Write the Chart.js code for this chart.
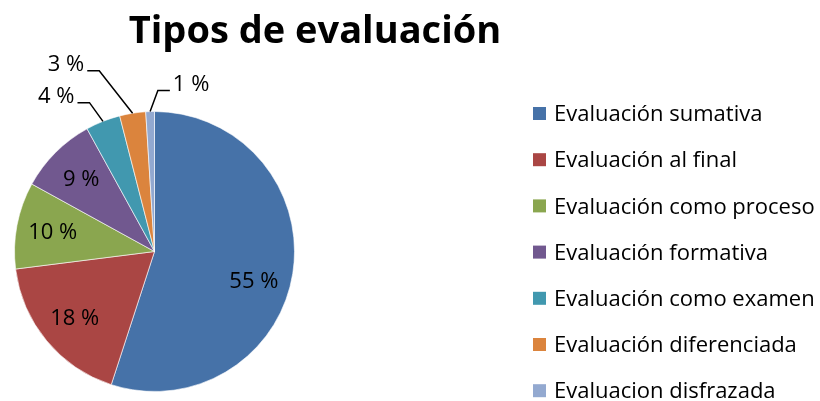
<!DOCTYPE html>
<html>
<head>
<meta charset="utf-8">
<script src="https://cdn.jsdelivr.net/npm/chart.js@4"></script>
<style>
  body { margin: 0; background: #fff; }
  #c { display: block; }
</style>
</head>
<body>
<canvas id="c" width="820" height="401"></canvas>
<script>
  // Datos del gráfico
  const categorias = ['Evaluación sumativa', 'Evaluación al final', 'Evaluación como proceso',
    'Evaluación formativa', 'Evaluación como examen', 'Evaluación diferenciada', 'Evaluacion disfrazada'];
  const valores = [55, 18, 10, 9, 4, 3, 1];
  const colores = ['#4672A8', '#AA4644', '#8AA64F', '#71588F', '#4198AF', '#DB843D', '#93A9D0'];
  const titulo = 'Tipos de evaluación';

  const FUENTE = '"Open Sans", sans-serif';

  // Etiquetas, título y leyenda dibujados a mano
  const etiquetasPlugin = {
    id: 'etiquetas',
    afterDraw(chart, args, opts) {
      const ctx = chart.ctx;
      const meta = chart.getDatasetMeta(0);
      const total = valores.reduce((a, b) => a + b, 0);
      ctx.save();

      // título
      ctx.fillStyle = '#000';
      ctx.font = 'bold 38px ' + FUENTE;
      ctx.textAlign = 'center';
      ctx.textBaseline = 'alphabetic';
      ctx.fillText(titulo, opts.tituloX, opts.tituloY);

      // porcentajes
      ctx.textBaseline = 'middle';
      ctx.font = '22px ' + FUENTE;
      meta.data.forEach((arc, i) => {
        const p = arc.getProps(['x', 'y', 'startAngle', 'endAngle', 'outerRadius'], true);
        const mid = (p.startAngle + p.endAngle) / 2;
        const txt = Math.round(valores[i] / total * 100) + ' %';
        const guia = opts.guias[i];
        if (!guia) {
          const aj = opts.interior[i] || { giro: 0, radio: 0.74 };
          const a = mid + aj.giro * Math.PI / 180;
          const r = p.outerRadius * aj.radio;
          ctx.textAlign = 'center';
          ctx.fillText(txt, p.x + Math.cos(a) * r, p.y + Math.sin(a) * r + 1);
          return;
        }
        const a2 = mid + guia.giro * Math.PI / 180;
        const x0 = p.x + Math.cos(mid) * p.outerRadius;
        const y0 = p.y + Math.sin(mid) * p.outerRadius;
        const x1 = p.x + Math.cos(a2) * p.outerRadius * guia.largo;
        const y1 = p.y + Math.sin(a2) * p.outerRadius * guia.largo;
        const x2 = x1 + guia.lado * 12;
        ctx.strokeStyle = '#000';
        ctx.lineWidth = 1.5;
        ctx.beginPath();
        ctx.moveTo(x0, y0);
        ctx.lineTo(x1, y1);
        ctx.lineTo(x2, y1);
        ctx.stroke();
        ctx.textAlign = guia.lado < 0 ? 'right' : 'left';
        ctx.fillText(txt, x2 + guia.lado * 3, y1 - 6);
      });

      // leyenda
      ctx.textAlign = 'left';
      categorias.forEach((c, i) => {
        const y = opts.leyendaY + i * opts.leyendaPaso;
        ctx.fillStyle = colores[i];
        ctx.fillRect(opts.leyendaX, y - 6, 13, 13);
        ctx.fillStyle = '#000';
        ctx.fillText(c, opts.leyendaX + 21, y + 2);
      });
      ctx.restore();
    }
  };

  new Chart(document.getElementById('c').getContext('2d'), {
    type: 'pie',
    data: {
      labels: categorias,
      datasets: [{
        data: valores,
        backgroundColor: colores,
        borderColor: 'rgba(255,255,255,0.6)',
        borderWidth: 1
      }]
    },
    options: {
      responsive: false,
      animation: false,
      devicePixelRatio: 1,
      layout: { padding: { left: 14, top: 111, right: 525, bottom: 9 } },
      plugins: {
        legend: { display: false },
        tooltip: { enabled: false },
        etiquetas: {
          tituloX: 315, tituloY: 43,
          leyendaX: 533, leyendaY: 113, leyendaPaso: 46.2,
          interior: { 0: { giro: 7.5, radio: 0.74 } },
          guias: {
            4: { largo: 1.16, giro: -2, lado: -1 },
            5: { largo: 1.35, giro: -8, lado: -1 },
            6: { largo: 1.15, giro: 3, lado: 1 }
          }
        }
      }
    },
    plugins: [etiquetasPlugin]
  });
</script>
</body>
</html>
